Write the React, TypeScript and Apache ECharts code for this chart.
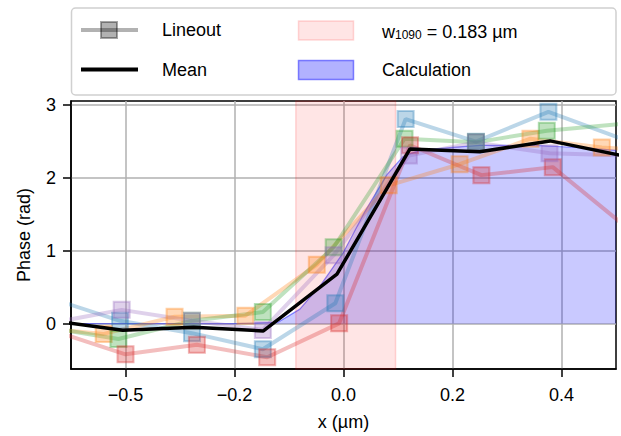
import React, { useEffect, useRef } from "react";
import * as echarts from "echarts";

const FONT = "'Liberation Sans', Arial, Helvetica, sans-serif";
const FS = 18;

const lineoutColors = ["31,119,180", "255,127,14", "44,160,44", "214,39,40", "148,103,189"];

const lineout1X = [-0.538, -0.41, -0.278, -0.148, -0.015, 0.114, 0.243, 0.376, 0.507];
const lineout1Y = [0.35, 0.04, -0.13, -0.35, 0.28, 2.81, 2.5, 2.91, 2.55];
const lineout2X = [-0.57, -0.44, -0.31, -0.18, -0.049, 0.083, 0.213, 0.343, 0.474, 0.605];
const lineout2Y = [-0.05, -0.14, 0.095, 0.11, 0.81, 1.9, 2.19, 2.54, 2.42, 2.35];
const lineout3X = [-0.543, -0.413, -0.278, -0.148, -0.018, 0.112, 0.243, 0.373, 0.505];
const lineout3Y = [-0.05, -0.21, 0.04, 0.16, 1.05, 2.54, 2.49, 2.65, 2.74];
const lineout4X = [-0.531, -0.4, -0.269, -0.14, -0.008, 0.122, 0.253, 0.384, 0.515];
const lineout4Y = [-0.1, -0.42, -0.29, -0.46, 0.005, 2.45, 2.04, 2.15, 1.35];
const lineout5X = [-0.537, -0.407, -0.278, -0.148, -0.018, 0.12, 0.243, 0.378, 0.51];
const lineout5Y = [0.01, 0.19, 0.04, -0.085, 0.94, 2.31, 2.49, 2.34, 2.31];

const meanX = [-0.535, -0.405, -0.275, -0.147, -0.012, 0.122, 0.25, 0.379, 0.51];
const meanY = [0.04, -0.09, -0.05, -0.1, 0.68, 2.4, 2.36, 2.51, 2.31];

const calcX = [-0.5, -0.2, -0.12, -0.08, -0.04, 0.0, 0.04, 0.08, 0.11, 0.14, 0.2, 0.25, 0.3, 0.35, 0.4, 0.45, 0.5];
const calcY = [0, 0, 0.02, 0.2, 0.55, 0.98, 1.55, 2.05, 2.3, 2.38, 2.42, 2.45, 2.45, 2.45, 2.43, 2.41, 2.38];

const bandStart = -0.0875;
const bandEnd = 0.0955;

const xTickValues = [-0.4, -0.2, 0, 0.2, 0.4];
const xTickLabels = ["\u22120.5", "\u22120.2", "0.0", "0.2", "0.4"];
const yTickValues = [0, 1, 2, 3];
const yTickLabels = ["0", "1", "2", "3"];

const lineouts = [
  [lineout1X, lineout1Y],
  [lineout2X, lineout2Y],
  [lineout3X, lineout3Y],
  [lineout4X, lineout4Y],
  [lineout5X, lineout5Y],
];

const pair = (xs: number[], ys: number[]) => xs.map((x, i) => [x, ys[i]]);

const labelFor = (vals: number[], labels: string[]) => (v: number) => {
  const i = vals.findIndex((t) => Math.abs(t - v) < 1e-6);
  return i >= 0 ? labels[i] : "";
};

export default function App() {
  const ref = useRef<HTMLDivElement>(null);
  useEffect(() => {
    if (!ref.current) return;
    const chart = echarts.init(ref.current, null, { renderer: "svg" });
    const txt = { fontSize: FS, fontFamily: FONT, fill: "#000", verticalAlign: "middle" };
    const option: any = {
      animation: false,
      textStyle: { fontFamily: FONT },
      grid: { left: 71, right: 5, top: 101, bottom: 63, show: true, borderColor: "#000", borderWidth: 1.5, backgroundColor: "transparent" },
      xAxis: {
        type: "value",
        min: -0.5,
        max: 0.5,
        name: "x (\u00b5m)",
        nameLocation: "middle",
        nameGap: 44,
        nameTextStyle: { fontSize: FS, color: "#000", fontFamily: FONT },
        axisLine: { show: true, onZero: false, lineStyle: { color: "#000", width: 1.5 } },
        axisTick: { show: true, length: 8, customValues: xTickValues, lineStyle: { color: "#000", width: 1.5 } },
        axisLabel: { customValues: xTickValues, formatter: labelFor(xTickValues, xTickLabels), fontSize: FS, color: "#000", margin: 17, fontFamily: FONT },
        splitLine: { show: true, lineStyle: { color: "#b0b0b0", width: 1.5 } },
      },
      yAxis: {
        type: "value",
        min: -0.622,
        max: 3.058,
        name: "Phase (rad)",
        nameLocation: "middle",
        nameGap: 38,
        nameTextStyle: { fontSize: FS, color: "#000", fontFamily: FONT },
        axisLine: { show: true, onZero: false, lineStyle: { color: "#000", width: 1.5 } },
        axisTick: { show: true, length: 8, customValues: yTickValues, lineStyle: { color: "#000", width: 1.5 } },
        axisLabel: { customValues: yTickValues, formatter: labelFor(yTickValues, yTickLabels), fontSize: FS, color: "#000", margin: 15, fontFamily: FONT },
        splitLine: { show: true, lineStyle: { color: "#b0b0b0", width: 1.5 } },
      },
      graphic: [
        { type: "rect", shape: { x: 71.5, y: 8, width: 544.5, height: 87, r: 4 }, style: { fill: "#fff", stroke: "#d0d0d0", lineWidth: 1.5 } },
        { type: "line", shape: { x1: 81, y1: 30, x2: 138, y2: 30 }, style: { stroke: "rgba(0,0,0,0.3)", lineWidth: 4 } },
        { type: "rect", shape: { x: 101, y: 22, width: 16, height: 16 }, style: { fill: "rgba(0,0,0,0.3)", stroke: "rgba(0,0,0,0.35)", lineWidth: 2 } },
        { type: "text", x: 162, y: 30, style: { ...txt, text: "Lineout" } },
        { type: "line", shape: { x1: 81, y1: 69.5, x2: 138, y2: 69.5 }, style: { stroke: "#000", lineWidth: 4 } },
        { type: "text", x: 162, y: 70, style: { ...txt, text: "Mean" } },
        { type: "rect", shape: { x: 298.5, y: 21, width: 55, height: 19 }, style: { fill: "rgba(255,0,0,0.1)", stroke: "rgba(255,0,0,0.15)", lineWidth: 1.5 } },
        {
          type: "text",
          x: 382,
          y: 30,
          style: {
            text: "{a|w}{s|1090}{a| = 0.183 \u00b5m}",
            fontSize: FS,
            fontFamily: FONT,
            fill: "#000",
            verticalAlign: "middle",
            rich: {
              a: { fontSize: FS, fontFamily: FONT, fill: "#000", lineHeight: 22, verticalAlign: "bottom" },
              s: { fontSize: 12, fontFamily: FONT, fill: "#000", lineHeight: 13, verticalAlign: "bottom" },
            },
          },
        },
        { type: "rect", shape: { x: 298.5, y: 60.5, width: 55, height: 19 }, style: { fill: "rgba(0,0,255,0.3)", stroke: "rgba(0,0,255,0.45)", lineWidth: 1.5 } },
        { type: "text", x: 382, y: 70, style: { ...txt, text: "Calculation" } },
      ],
      series: [
        {
          type: "line",
          name: "Calculation",
          data: pair(calcX, calcY),
          symbol: "none",
          z: 2,
          silent: true,
          lineStyle: { color: "rgba(0,0,255,0.45)", width: 1.2 },
          areaStyle: { color: "rgba(0,0,255,0.3)", origin: "auto" },
        },
        {
          type: "line",
          name: "band",
          data: [],
          z: 3,
          silent: true,
          markArea: {
            silent: true,
            z: 3,
            itemStyle: { color: "rgba(255,0,0,0.1)", borderColor: "rgba(255,0,0,0.15)", borderWidth: 1.5 },
            data: [[{ xAxis: bandStart }, { xAxis: bandEnd }]],
          },
        },
        ...lineouts.map(([xs, ys], i) => ({
          type: "line",
          name: "Lineout " + (i + 1),
          data: pair(xs, ys),
          symbol: "rect",
          symbolSize: 16,
          showAllSymbol: true,
          z: 4,
          silent: true,
          lineStyle: { color: `rgba(${lineoutColors[i]},0.3)`, width: 4 },
          itemStyle: { color: `rgba(${lineoutColors[i]},0.3)`, borderColor: `rgba(${lineoutColors[i]},0.35)`, borderWidth: 2 },
        })),
        {
          type: "line",
          name: "Mean",
          data: pair(meanX, meanY),
          symbol: "none",
          z: 5,
          silent: true,
          lineStyle: { color: "#000", width: 3.5 },
        },
      ],
    };
    chart.setOption(option);
    return () => chart.dispose();
  }, []);
  return <div ref={ref} style={{ position: "absolute", left: 0, top: 0, width: 621, height: 436 }} />;
}
